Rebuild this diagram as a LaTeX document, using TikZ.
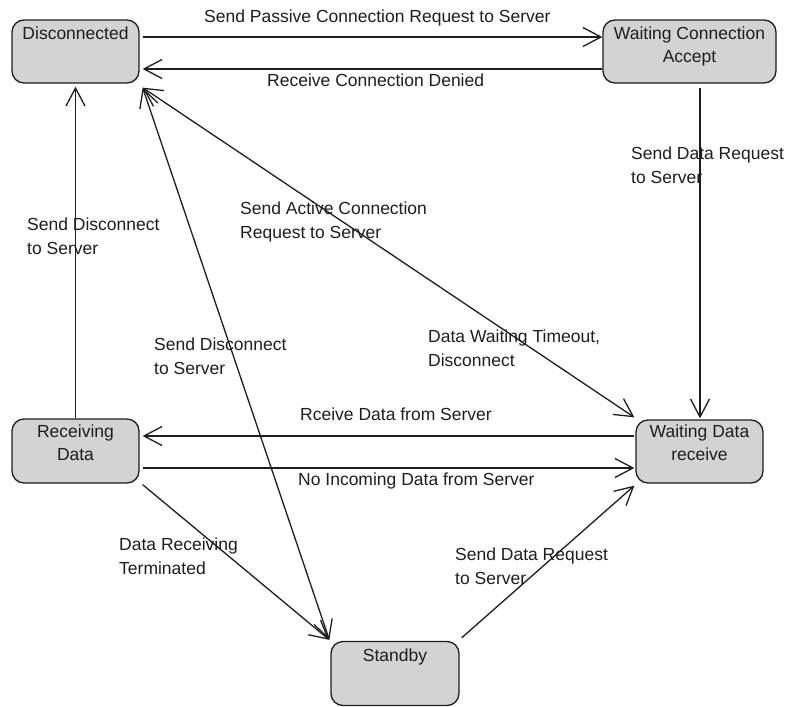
\documentclass[tikz,border=0pt]{standalone}
\usepackage{fontspec}
\setmainfont{Liberation Sans}
\usetikzlibrary{arrows.meta}
\definecolor{stategray}{RGB}{211,211,211}
\definecolor{ink}{RGB}{30,30,30}
\newcommand{\lblfont}{\fontsize{17.5pt}{23.5pt}\selectfont}
\begin{document}
\begin{tikzpicture}[x=1pt,y=-1pt,
  state/.style={draw=ink, line width=1.3pt, fill=stategray, rounded corners=12pt, inner sep=0pt, minimum width=127pt, minimum height=63pt},
  stext/.style={anchor=north, inner sep=0pt, align=center, text=ink, font=\lblfont},
  elabel/.style={anchor=north west, inner sep=0pt, align=left, text=ink, font=\lblfont},
  conn/.style={draw=ink, line width=1.3pt, -{Straight Barb[length=18pt,width=19pt]}},
  bidir/.style={draw=ink, line width=1.3pt, {Straight Barb[length=18pt,width=19pt]}-{Straight Barb[length=18pt,width=19pt]}}
]
\fill[white] (0,0) rectangle (788,707);
\useasboundingbox (0,0) rectangle (788,707);

% states
\node[state] (dis) at (75.5,51.5) {};
\node[state, minimum width=173pt] (wca) at (689.5,51.5) {};
\node[state, minimum height=64pt] (rd) at (75.5,451) {};
\node[state] (wdr) at (699.5,451.5) {};
\node[state, minimum width=128pt, minimum height=64pt] (sb) at (395,673.5) {};

\node[stext] (disT) at ([yshift=-7pt]dis.north) {Disconnected};
\node[stext] (wcaT) at ([yshift=-7pt]wca.north) {Waiting Connection\\Accept};
\node[stext] (rdT) at ([yshift=-6pt]rd.north) {Receiving\\Data};
\node[stext] (wdrT) at ([yshift=-5pt]wdr.north) {Waiting Data\\receive};
\node[stext] (sbT) at ([yshift=-8pt]sb.north) {Standby};

% connectors
\draw[conn] ([xshift=3pt,yshift=14.5pt]dis.east) -- ([yshift=14.5pt]wca.west);
\draw[conn] ([yshift=-17.5pt]wca.west) -- ([xshift=3pt,yshift=-17.5pt]dis.east);
\draw[conn] ([xshift=10.5pt,yshift=-4pt]wca.south) -- ([xshift=0.5pt,yshift=1pt]wdr.north);
\draw[conn] (rd.north) -- ([yshift=-3pt]dis.south);
\draw[bidir] ([xshift=3pt,yshift=-4pt]dis.south east) -- ([xshift=-1pt,yshift=2pt]wdr.north west);
\draw[bidir] ([xshift=-1pt,yshift=1pt]sb.north west) -- ([xshift=3pt,yshift=-4pt]dis.south east);
\draw[conn] ([xshift=-1pt,yshift=15.5pt]wdr.west) -- ([xshift=3pt,yshift=15pt]rd.east);
\draw[conn] ([xshift=3pt,yshift=-17pt]rd.east) -- ([xshift=-1pt,yshift=-16.5pt]wdr.west);
\draw[conn] ([xshift=3pt,yshift=-1pt]rd.south east) -- ([xshift=-1pt,yshift=1pt]sb.north west);
\draw[conn] ([xshift=2pt,yshift=3pt]sb.north east) -- ([xshift=-1pt,yshift=-2pt]wdr.south west);

% edge labels
\node[elabel] (l1) at (204,10) {Send Passive Connection Request to Server};
\node[elabel] (l2) at (267,74) {Receive Connection Denied};
\node[elabel] (l3) at (631,147) {Send Data Request\\to Server};
\node[elabel] (l4) at (27,218) {Send Disconnect\\to Server};
\node[elabel] (l5) at (240,202) {Send Active Connection\\Request to Server};
\node[elabel] (l6) at (154,338) {Send Disconnect\\to Server};
\node[elabel] (l7) at (428,330) {Data Waiting Timeout,\\Disconnect};
\node[elabel] (l8) at (300,408) {Rceive Data from Server};
\node[elabel] (l9) at (298,473) {No Incoming Data from Server};
\node[elabel] (l10) at (119,538) {Data Receiving\\Terminated};
\node[elabel] (l11) at (455,548) {Send Data Request\\to Server};
\end{tikzpicture}
\end{document}
